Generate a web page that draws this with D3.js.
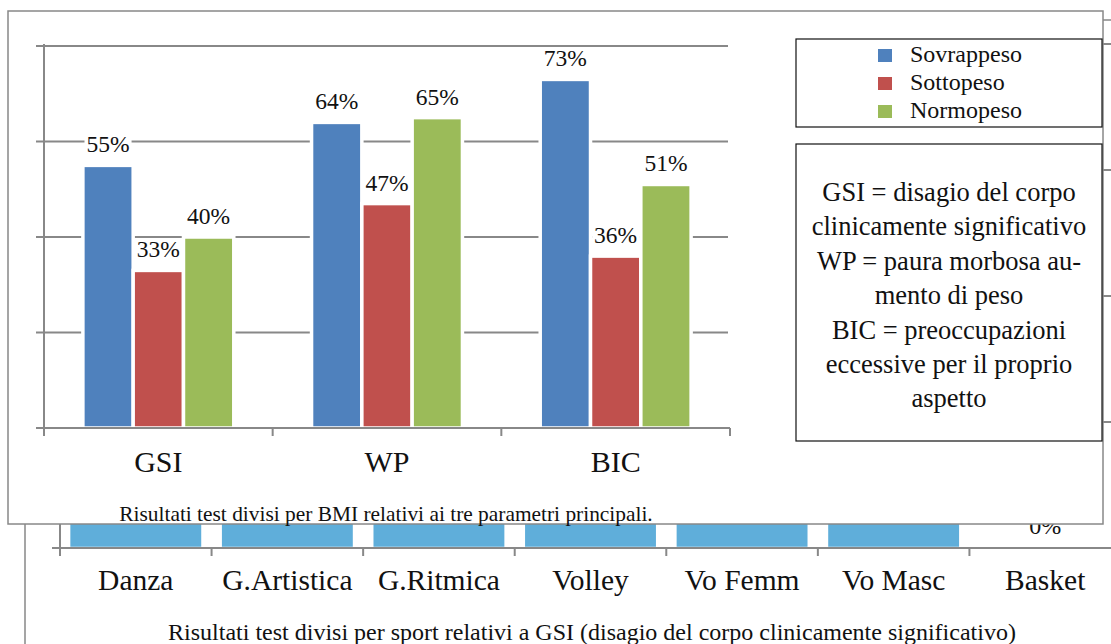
<!DOCTYPE html>
<html>
<head>
<meta charset="utf-8">
<script src="https://cdn.jsdelivr.net/npm/d3@7"></script>
<style>
  html, body { margin: 0; padding: 0; background: #fff; }
  svg { display: block; }
  svg text { font-family: "Liberation Serif", "Times New Roman", Times, serif; }
</style>
</head>
<body>
<svg id="chart" width="1111" height="644"></svg>
<script>
// ---- BMI chart (front) ----
const bmiCategories = ["GSI", "WP", "BIC"];
const bmiSeries = ["Sovrappeso", "Sottopeso", "Normopeso"];
const sovrappeso = [0.55, 0.64, 0.73];
const sottopeso = [0.33, 0.47, 0.36];
const normopeso = [0.40, 0.65, 0.51];
const bmiTicks = [0, 0.2, 0.4, 0.6, 0.8];
const seriesColors = ["#4F81BD", "#C0504D", "#9BBB59"];
const definitions = [
  "GSI = disagio del corpo",
  "clinicamente significativo",
  "WP = paura morbosa au-",
  "mento di peso",
  "BIC = preoccupazioni",
  "eccessive per il proprio",
  "aspetto"
];
const bmiCaption = "Risultati test divisi per BMI relativi ai tre parametri principali.";

// ---- Sport chart (behind) ----
const sports = ["Danza", "G.Artistica", "G.Ritmica", "Volley", "Vo Femm", "Vo Masc", "Basket"];
const sportGSI = [0.27, 0.33, 0.29, 0.20, 0.22, 0.17, 0.00];
const sportTicks = [0, 0.1, 0.2, 0.3, 0.4];
const sportColor = "#5FAEDA";
const sportCaption = "Risultati test divisi per sport relativi a GSI (disagio del corpo clinicamente significativo)";

const serif = "Liberation Serif";
const axisGrey = "#888";
const pct = d3.format(".0%");
const svg = d3.select("#chart");

function txt(sel) {
  return sel.attr("font-family", serif).attr("fill", "#111");
}

// ================= sport chart =================
const back = svg.append("g");
back.append("rect")
  .attr("x", 25).attr("y", 20).attr("width", 1200).attr("height", 700)
  .attr("fill", "#fff").attr("stroke", axisGrey).attr("stroke-width", 1.5);

const sy = d3.scaleLinear().domain([0, 0.4]).range([548, 44]);
const sx = d3.scaleBand().domain(sports).range([60, 1121])
  .paddingInner(0.12).paddingOuter(0.06);
const sStep = sx.step();

// gridlines
back.append("g").selectAll("line").data(sportTicks).join("line")
  .attr("x1", 52).attr("x2", 1200)
  .attr("y1", d => sy(d)).attr("y2", d => sy(d))
  .attr("stroke", axisGrey).attr("stroke-width", 2);

// bars
back.append("g").selectAll("rect").data(sports).join("rect")
  .attr("x", d => sx(d))
  .attr("y", (d, i) => sy(sportGSI[i]))
  .attr("width", sx.bandwidth())
  .attr("height", (d, i) => sy(0) - sy(sportGSI[i]))
  .attr("fill", sportColor)
  .attr("stroke", "#fff").attr("stroke-width", 2.5);

// axes
back.append("line").attr("x1", 60).attr("x2", 60).attr("y1", sy(0.4)).attr("y2", 556)
  .attr("stroke", axisGrey).attr("stroke-width", 2);
back.append("line").attr("x1", 52).attr("x2", 1200).attr("y1", sy(0)).attr("y2", sy(0))
  .attr("stroke", axisGrey).attr("stroke-width", 2);
const sBounds = sports.map((d, i) => 60 + i * sStep).concat([60 + sports.length * sStep]);
back.append("g").selectAll("line").data(sBounds).join("line")
  .attr("x1", d => d).attr("x2", d => d).attr("y1", sy(0)).attr("y2", 556)
  .attr("stroke", axisGrey).attr("stroke-width", 2);

// value labels
txt(back.append("g").selectAll("text").data(sports).join("text"))
  .attr("x", d => sx(d) + sx.bandwidth() / 2)
  .attr("y", (d, i) => sy(sportGSI[i]) - 14)
  .attr("text-anchor", "middle").attr("font-size", 24)
  .text((d, i) => pct(sportGSI[i]));

// category labels
txt(back.append("g").selectAll("text").data(sports).join("text"))
  .attr("x", d => sx(d) + sx.bandwidth() / 2)
  .attr("y", 590)
  .attr("text-anchor", "middle").attr("font-size", 29.5)
  .text(d => d);

txt(back.append("text")).attr("x", 592).attr("y", 640)
  .attr("text-anchor", "middle").attr("font-size", 24)
  .text(sportCaption);

// ================= BMI chart =================
const front = svg.append("g");
front.append("rect")
  .attr("x", 8).attr("y", 11).attr("width", 1095).attr("height", 513)
  .attr("fill", "#fff").attr("stroke", axisGrey).attr("stroke-width", 1.5);

const y = d3.scaleLinear().domain([0, 0.8]).range([428, 46]);
const x0 = d3.scaleBand().domain(bmiCategories).range([44, 730]);
const x1 = d3.scaleBand().domain(bmiSeries).range([0, x0.bandwidth()]).paddingOuter(0.773);
const seriesValues = [sovrappeso, sottopeso, normopeso];

// gridlines
front.append("g").selectAll("line").data(bmiTicks).join("line")
  .attr("x1", 36).attr("x2", 728)
  .attr("y1", d => y(d)).attr("y2", d => y(d))
  .attr("stroke", axisGrey).attr("stroke-width", 2);

// bars
const groups = front.append("g").selectAll("g").data(bmiCategories).join("g")
  .attr("transform", d => `translate(${x0(d)},0)`);
groups.selectAll("rect")
  .data((c, ci) => bmiSeries.map((s, si) => ({ s, si, v: seriesValues[si][ci] })))
  .join("rect")
  .attr("x", d => x1(d.s))
  .attr("y", d => y(d.v))
  .attr("width", x1.bandwidth())
  .attr("height", d => y(0) - y(d.v))
  .attr("fill", d => seriesColors[d.si])
  .attr("stroke", "#fff").attr("stroke-width", 3.5);

// axes
front.append("line").attr("x1", 44).attr("x2", 44).attr("y1", 44).attr("y2", 436)
  .attr("stroke", axisGrey).attr("stroke-width", 2);
front.append("line").attr("x1", 36).attr("x2", 730).attr("y1", y(0)).attr("y2", y(0))
  .attr("stroke", axisGrey).attr("stroke-width", 2);
const bounds = bmiCategories.map(c => x0(c)).concat([x0.range()[1]]);
front.append("g").selectAll("line").data(bounds).join("line")
  .attr("x1", d => d).attr("x2", d => d).attr("y1", y(0)).attr("y2", 436)
  .attr("stroke", axisGrey).attr("stroke-width", 2);

// value labels with white backing
const labels = groups.selectAll("g.lbl")
  .data((c, ci) => bmiSeries.map((s, si) => ({ s, si, v: seriesValues[si][ci] })))
  .join("g").attr("class", "lbl");
labels.append("rect").attr("fill", "#fff");
txt(labels.append("text"))
  .attr("x", d => x1(d.s) + x1.bandwidth() / 2)
  .attr("y", d => y(d.v) - 13)
  .attr("text-anchor", "middle").attr("font-size", 23.5)
  .text(d => pct(d.v));
labels.each(function () {
  const g = d3.select(this);
  const b = g.select("text").node().getBBox();
  g.select("rect").attr("x", b.x - 2).attr("y", b.y + 2)
    .attr("width", b.width + 4).attr("height", b.height - 1);
});

// category labels
txt(front.append("g").selectAll("text").data(bmiCategories).join("text"))
  .attr("x", d => x0(d) + x0.bandwidth() / 2)
  .attr("y", 472)
  .attr("text-anchor", "middle").attr("font-size", 30)
  .text(d => d);

// legend
const legend = front.append("g");
legend.append("rect").attr("x", 796).attr("y", 39).attr("width", 306).attr("height", 88)
  .attr("fill", "#fff").attr("stroke", "#111").attr("stroke-width", 1.2);
const li = legend.selectAll("g").data(bmiSeries).join("g")
  .attr("transform", (d, i) => `translate(0,${62 + i * 28})`);
li.append("rect").attr("x", 878).attr("y", -13).attr("width", 14).attr("height", 13)
  .attr("fill", (d, i) => seriesColors[i]);
txt(li.append("text")).attr("x", 910).attr("y", 0).attr("font-size", 24)
  .text(d => d);

// definitions box
const defs = front.append("g");
defs.append("rect").attr("x", 796).attr("y", 144).attr("width", 306).attr("height", 297)
  .attr("fill", "#fff").attr("stroke", "#111").attr("stroke-width", 1.2);
txt(defs.selectAll("text").data(definitions).join("text"))
  .attr("x", 949).attr("y", (d, i) => 201 + i * 34.4)
  .attr("text-anchor", "middle").attr("font-size", 26.5)
  .text(d => d);

txt(front.append("text")).attr("x", 386).attr("y", 521)
  .attr("text-anchor", "middle").attr("font-size", 21.4)
  .text(bmiCaption);
</script>
</body>
</html>
